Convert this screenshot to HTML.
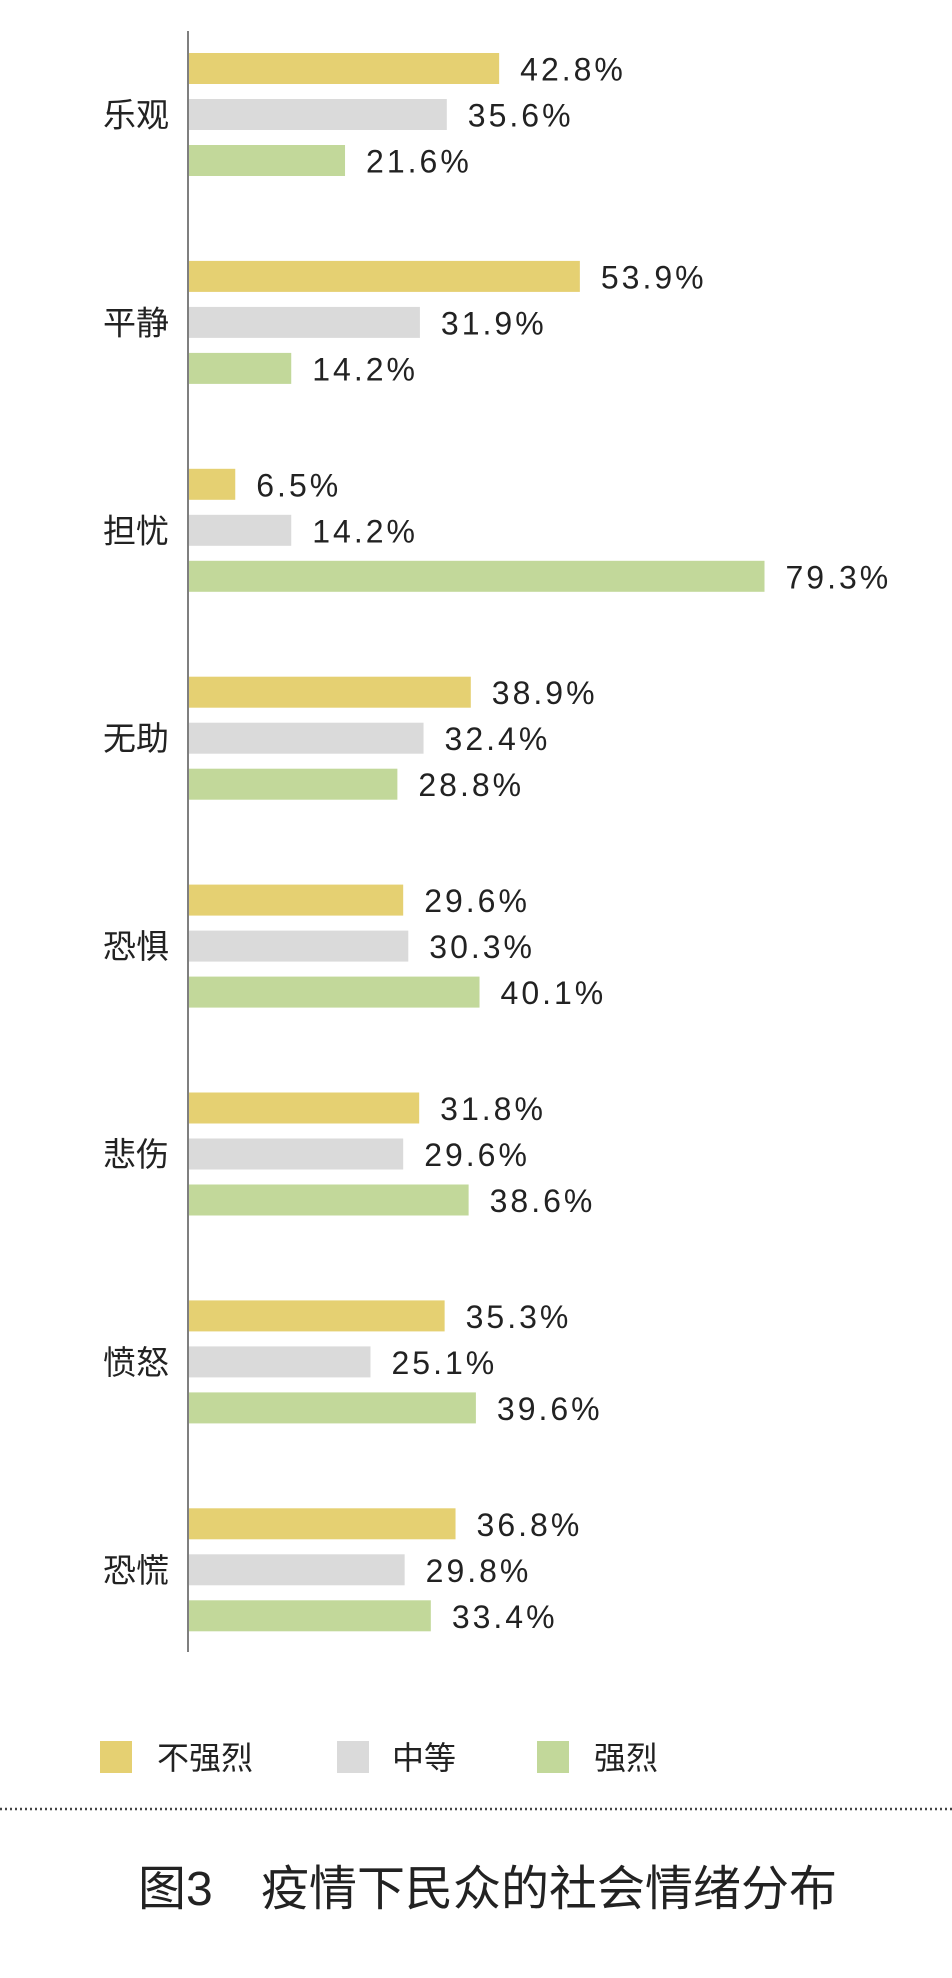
<!DOCTYPE html>
<html><head><meta charset="utf-8"><style>
html,body{margin:0;padding:0;background:#fff;}
svg{display:block;}
text{font-family:"Liberation Sans","Noto Sans CJK SC",sans-serif;fill:#222;}
</style></head><body>
<svg id="chart" width="952" height="1978" viewBox="0 0 952 1978" xmlns="http://www.w3.org/2000/svg">
<line x1="188" y1="31" x2="188" y2="1652" stroke="#555" stroke-width="1.5"/>
<g id="bars"></g>
<g>
<rect x="100" y="1741" width="32" height="32" fill="#e5d072"/>
<text x="157" y="1769" font-size="32">不强烈</text>
<rect x="337" y="1741" width="32" height="32" fill="#dadada"/>
<text x="392" y="1769" font-size="32">中等</text>
<rect x="537" y="1741" width="32" height="32" fill="#c2d89a"/>
<text x="594" y="1769" font-size="32">强烈</text>
</g>
<line x1="0" y1="1809" x2="952" y2="1809" stroke="#444" stroke-width="2.5" stroke-dasharray="2,3"/>
<text x="138" y="1905" font-size="48">图3<tspan x="261">疫情下民众的社会情绪分布</tspan></text>
</svg>
<script>
const categories = ['乐观','平静','担忧','无助','恐惧','悲伤','愤怒','恐慌'];
const weakValues = [42.8,53.9,6.5,38.9,29.6,31.8,35.3,36.8];
const mediumValues = [35.6,31.9,14.2,32.4,30.3,29.6,25.1,29.8];
const strongValues = [21.6,14.2,79.3,28.8,40.1,38.6,39.6,33.4];

const svgNS='http://www.w3.org/2000/svg';
const g=document.getElementById('bars');
const x0=188, pxPer=7.27, groupTop=53, groupPitch=207.9, barH=31;
const offsets=[0,46,92];
const colors=['#e5d072','#dadada','#c2d89a'];
const seriesNames=['weak','medium','strong'];
const series=[weakValues,mediumValues,strongValues];
function xScale(v){return x0+v*pxPer;}
function yScale(i,s){return groupTop+i*groupPitch+offsets[s];}
categories.forEach((c,i)=>{
  const t=document.createElementNS(svgNS,'text');
  
  
  t.setAttribute('x',103);t.setAttribute('y',yScale(i,1)+barH/2+12);
  t.setAttribute('font-size','33');t.textContent=c;g.appendChild(t);
  series.forEach((arr,s)=>{
    const v=arr[i];const y=yScale(i,s);
    const r=document.createElementNS(svgNS,'rect');
    
    
    r.setAttribute('x',x0+1);r.setAttribute('y',y);
    r.setAttribute('width',xScale(v)-x0-1);r.setAttribute('height',barH);
    r.setAttribute('fill',colors[s]);g.appendChild(r);
    const l=document.createElementNS(svgNS,'text');
    
    
    l.setAttribute('x',xScale(v)+21);l.setAttribute('y',y+barH/2+12);
    l.setAttribute('font-size','32');l.setAttribute('letter-spacing','3');
    l.textContent=v.toFixed(1)+'%';g.appendChild(l);
  });
});
</script>
</body></html>
